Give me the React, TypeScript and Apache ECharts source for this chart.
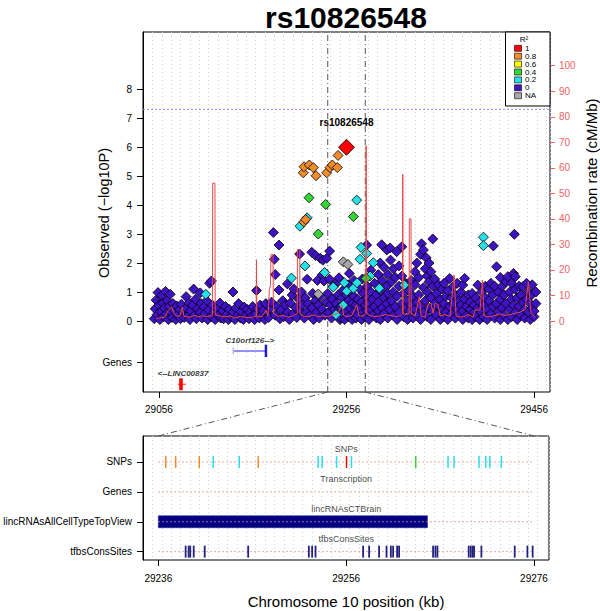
import React, { useEffect, useRef } from 'react';
import * as echarts from 'echarts';

const FONT = '"Liberation Sans", Arial, Helvetica, sans-serif';

// ---------- upper panel ----------
const upperTicks = [29056, 29256, 29456];
const logPTicks = [0, 1, 2, 3, 4, 5, 6, 7, 8];
const genesLabelY = -1.42;
const recombTicks = [0, 10, 20, 30, 40, 50, 60, 70, 80, 90, 100];
const significance = 7.3;
const zoomRange = [29236, 29276];
const leadSnp = { name: 'rs10826548', kb: 29256, logP: 5.99 };

const r2Colors: Record<string, string> = {
  '1': '#FF0000',
  '0.8': '#F28C28',
  '0.6': '#FFFF00',
  '0.4': '#33D633',
  '0.2': '#26E0E8',
  '0': '#3F12C4',
  NA: '#A8A8A8',
};
const legendLabels = ['1', '0.8', '0.6', '0.4', '0.2', '0', 'NA'];

const snpsR2_0: [number, number][] = [
  [29051,0.08],[29052,0.42],[29053,0.72],[29054,0.22],[29055,0.98],[29056,0.55],[29057,0.05],[29058,0.32],[29059,0.88],[29060,0.62],
  [29061,0.15],[29062,0.45],[29063,1.02],[29064,0.25],[29065,0.7],[29066,0.05],[29067,0.5],[29068,0.92],[29069,0.3],[29070,0.12],
  [29071,0.6],[29072,0.38],[29074,0.05],[29075,0.52],[29076,0.22],[29078,0.4],[29079,0.08],[29080,0.58],[29082,0.28],[29083,0.12],
  [29085,0.84],[29085,0.45],[29087,0.18],[29088,0.62],[29089,0.05],[29090,0.35],[29092,0.55],[29093,1.1],[29094,0.2],[29095,0.75],
  [29096,0.08],[29097,0.42],[29100,0.97],[29100,0.3],[29101,0.6],[29102,0.1],[29104,0.48],[29105,0.25],[29107,0.7],[29108,0.05],
  [29109,0.38],[29110,1.3],[29112,1.38],[29112,0.15],[29113,0.55],[29115,0.3],[29116,0.05],[29118,0.45],[29119,0.2],[29121,0.62],
  [29122,0.1],[29124,0.35],[29125,0.08],[29127,0.5],[29128,0.22],[29130,0.05],[29131,0.4],[29133,0.15],[29135,1.0],[29135,0.3],
  [29137,0.05],[29138,0.45],[29140,0.2],[29141,0.6],[29143,0.1],[29144,0.32],[29146,0.05],[29147,0.48],[29149,0.2],[29150,0.4],
  [29152,0.08],[29153,0.3],[29155,0.15],[29156,0.5],[29158,0.05],[29159,0.25],[29160,1.05],[29161,0.42],[29163,0.1],[29164,0.55],
  [29166,0.2],[29167,0.35],[29169,0.05],[29170,0.6],[29172,0.28],[29173,0.12],[29175,0.45],[29176,0.65],[29178,3.05],[29179,2.13],
  [29180,1.6],[29180,0.2],[29182,0.5],[29184,2.62],[29184,1.07],[29185,0.08],[29186,0.38],[29188,0.7],[29189,0.15],[29191,0.55],
  [29193,1.28],[29193,0.3],[29195,0.05],[29196,0.62],[29198,0.9],[29199,0.25],[29200,1.1],[29202,0.45],[29203,0.12],[29205,0.75],
  [29206,2.31],[29207,0.35],[29208,1.0],[29209,0.55],[29211,0.1],[29212,0.8],[29213,0.3],[29214,1.44],[29215,0.6],[29217,0.2],
  [29219,2.37],[29219,0.45],[29220,0.95],[29221,0.05],[29223,2.26],[29223,0.7],[29224,0.3],[29225,1.4],[29226,0.55],[29227,0.1],
  [29228,2.16],[29228,0.85],[29230,1.59],[29230,0.4],[29231,2.1],[29232,1.38],[29233,0.2],[29234,0.65],[29235,2.16],[29236,0.95],
  [29237,0.3],[29238,2.41],[29238,1.44],[29239,0.55],[29240,0.1],[29241,0.75],[29242,1.2],[29243,0.4],[29245,0.6],[29246,0.2],
  [29247,1.36],[29247,0.9],[29248,1.49],[29248,0.45],[29249,0.05],
  [29250,0.1],[29250,0.45],[29251,0.8],[29252,0.25],[29252,1.05],[29254,0.6],[29254,0.05],[29256,0.35],[29256,0.9],[29258,0.15],
  [29258,0.7],[29258,1.25],[29259,1.64],[29260,0.45],[29260,1.0],[29262,0.05],[29262,0.6],[29264,0.3],[29264,0.85],[29264,1.4],
  [29266,0.1],[29266,0.55],[29268,0.75],[29268,0.2],[29270,0.4],[29270,1.1],[29272,0.05],[29272,0.65],[29273,1.45],[29274,0.3],
  [29274,0.95],[29276,0.15],[29276,0.55],[29277.5,2.62],[29278,0.8],[29278,0.35],[29278,1.2],[29280,0.05],[29280,0.6],[29282,0.4],
  [29282,1.0],[29282,1.75],[29284,0.2],[29284,0.75],[29286,0.5],[29286,1.3],[29288,0.1],[29288,0.9],[29290,0.35],[29290,0.65],
  [29290,1.6],[29292,0.05],[29292,1.05],[29292,2.0],[29293.5,2.63],[29294,0.45],[29294,1.4],[29296,0.25],[29296,0.8],[29296,1.85],
  [29299,0.6],[29299,1.2],[29299,2.45],[29300,0.1],[29300,0.95],[29300,1.6],[29302,0.4],[29302.5,2.52],[29303,2.1],[29304,0.7],
  [29304,1.35],[29306,0.2],[29306,1.0],[29306,1.8],[29308,0.5],[29308,1.5],[29309.5,2.39],[29310,0.05],[29310,0.85],[29312,0.3],
  [29312,1.2],[29312,1.9],[29315,0.6],[29315,2.56],[29315,1.55],[29317,0.15],[29317,0.95],[29319,0.45],[29319,1.3],[29321,0.05],
  [29321,0.7],[29323,0.35],[29323,1.05],[29325,0.55],[29325,1.4],[29327,0.1],[29327,0.85],[29329,0.4],[29329,1.25],[29329,1.7],
  [29331,0.2],[29331,0.65],[29331,2.0],[29333,0.9],[29333,1.5],[29335,0.05],[29335,0.5],[29335,2.3],[29336,2.66],[29338,0.3],
  [29338,1.15],[29338,2.45],[29340,0.7],[29340,1.8],[29341,2.18],[29342,0.15],[29342,1.0],[29342,1.55],[29344,0.45],[29344,1.35],
  [29344,2.0],[29346,0.05],[29346,0.8],[29346,1.7],[29348,0.35],[29348,2.83],[29348,1.2],[29350,0.6],[29350,1.45],[29352,0.2],
  [29352,0.95],[29354,0.5],[29354,1.25],[29356,0.05],[29356,0.75],[29358,0.4],[29358,1.1],[29360,0.15],[29360,0.6],[29360,1.3],
  [29362,0.85],[29362,0.3],[29364,0.05],[29364,1.05],[29366,0.5],[29366,1.47],[29368,0.25],[29368,0.8],[29370,0.6],[29370,1.2],
  [29372,0.1],[29372,0.9],[29374,0.4],[29374,1.3],[29376,0.2],[29376,0.7],[29378,0.55],[29378,1.0],[29380,0.05],[29380,0.35],
  [29380,1.24],[29382,0.75],[29382,1.47],[29384,0.2],[29384,0.5],[29386,0.9],[29386,0.1],[29388,0.4],[29388,0.65],[29390,0.05],
  [29390,0.95],[29392,0.3],[29392,0.55],[29394,0.8],[29394,0.15],[29396,0.45],[29396,1.24],[29398,0.05],[29398,0.65],[29400,0.3],
  [29400,1.0],[29402,0.55],[29402,0.15],[29404,0.8],[29404,1.2],[29406,0.05],[29406,0.4],[29408,0.7],[29408,1.1],[29410,0.25],
  [29410,1.3],[29412,0.5],[29412.6,2.59],[29412,0.9],[29414,0.1],[29414,1.2],[29416,0.6],[29416,1.87],[29418,0.35],[29418,1.0],
  [29420,0.05],[29420,0.75],[29420,1.5],[29422,0.45],[29422,1.2],[29424,0.2],[29424,0.9],[29426,0.6],[29426,1.35],[29428,0.05],
  [29428,1.53],[29430,0.4],[29430,1.0],[29432,0.15],[29432,0.75],[29432,1.3],[29434,0.55],[29434,1.64],[29435,2.99],[29436,0.3],
  [29436,1.53],[29436,1.1],[29438,0.05],[29438,0.8],[29440,0.5],[29440,1.2],[29442,0.2],[29442,0.9],[29444,0.65],[29444,1.18],
  [29446,0.1],[29446,0.4],[29448,0.75],[29448,1.3],[29450,0.3],[29450,1.0],[29452,0.05],[29452,0.6],[29454,0.45],[29454,0.92],
  [29454,1.25],[29456,0.15],[29456,0.34],[29458,0.6],[29458,1.0],
];
const snpsR2_02: [number, number][] = [
  [29106,0.92],[29197.3,1.48],[29206.4,3.27],[29211.7,1.9],[29214,3.56],[29232.7,1.67],[29241.9,1.17],[29244.8,0.22],
  [29252.6,0.55],[29253.7,1.32],[29256.2,1.03],[29263.3,1.13],[29267.2,1.32],[29266.9,4.17],[29271.5,2.54],[29270.4,2.13],
  [29277.5,2.33],[29281.1,1.55],[29284.6,2.01],[29291,1.13],[29317.7,1.24],[29402,2.89],[29402,2.6],
];
const snpsR2_04: [number, number][] = [
  [29216,4.25],[29225.9,3.0],[29233.8,4.02],[29263.3,3.6],[29276.8,1.47],
];
const snpsR2_08: [number, number][] = [
  [29209.9,5.11],[29210.7,5.32],[29216.3,5.38],[29220.6,5.29],[29223.5,5.01],[29234.9,5.11],[29238.4,5.29],
  [29240.9,5.38],[29246.2,5.29],[29247,5.71],[29210.5,3.42],[29212.5,3.5],
];
const snpsNA: [number, number][] = [[29225.9,0.93],[29252.6,2.04],[29257.5,1.95]];

const recomb: [number, number][] = [
  [29052.8,1.0],[29057.1,1.2],[29062.4,1.5],[29065.6,4.0],[29069.5,5.6],[29072.0,3.0],[29075.2,1.8],[29078.4,2.0],[29080.9,5.5],
  [29082.7,1.8],[29089.1,1.5],[29094.4,2.2],[29097.6,1.6],[29101.9,2.0],[29106.1,1.8],[29110.4,2.0],[29113.0,2.0],[29113.3,54],
  [29115.7,54],[29116.0,2.5],[29121.1,2.0],[29126.4,1.6],[29131.7,2.0],[29137.1,1.2],[29142.4,1.8],[29147.7,1.5],[29153.1,1.2],
  [29158.4,1.8],[29159.7,1.8],[29160.0,24],[29160.4,1.6],[29165.9,1.8],[29170.1,4.3],[29172.3,2.0],[29173.7,12],[29174.9,14],
  [29175.5,26],[29177.6,26],[29178.1,3],[29182.9,1.8],[29188.3,2.2],[29193.6,1.5],[29198.9,2.0],[29203.5,3],[29203.7,28],
  [29206.2,28],[29206.4,3],[29209.6,2.0],[29214.9,1.6],[29220.3,2.4],[29225.6,1.8],[29230.9,2.0],[29236.3,1.7],[29241.6,2.5],
  [29247.0,3],[29250.9,6.3],[29253.3,2.0],[29257.6,1.8],[29261.9,2.2],[29266.9,6.3],[29269.3,2.0],[29273.6,2.0],[29276.6,3],
  [29276.9,68.7],[29277.3,68.7],[29277.6,3],[29281.1,2.0],[29286.4,1.8],[29291.7,2.0],[29297.1,2.5],[29302.4,2.2],[29307.7,1.8],
  [29313.1,2.0],[29315.6,3],[29316.0,57.4],[29316.4,3],[29319.5,2.5],[29322.8,3],[29323.0,40],[29324.8,40],[29325.0,3],
  [29329.1,2.0],[29333.7,9.5],[29335.5,2.0],[29339.7,1.5],[29342.9,6.5],[29346.1,7],[29348.3,3],[29350.4,6.9],[29353.6,6.5],
  [29355.7,2.0],[29361.1,2.5],[29366.4,1.8],[29370.7,18],[29372.8,2.0],[29377.1,1.5],[29382.4,1.8],[29384.5,2.5],[29387.7,2.3],
  [29390.9,1.5],[29393.1,4.3],[29398.4,4.3],[29400.9,16],[29402.7,2.0],[29409.1,1.6],[29414.4,2.2],[29419.7,2.8],[29425.1,2.2],
  [29430.4,2.5],[29435.7,3],[29441.1,3.5],[29446.4,4.5],[29449.9,15.4],[29452.8,3.0],[29457.1,1.5],
];

// genes in the upper panel
const c10orf126 = { label: 'C10orf126-->', start: 29135.3, end: 29170.1, row: -1.03, labelKb: 29153, labelY: -0.68 };
const linc00837 = { label: '<--LINC00837', start: 29076.3, end: 29084.8, exon: 29079.5, row: -2.18, labelKb: 29081.6, labelY: -1.8 };

// ---------- lower panel ----------
const lowerTicks = [29236, 29256, 29276];
const trackNames = ['SNPs', 'Genes', 'lincRNAsAllCellTypeTopView', 'tfbsConsSites'];
const trackTitles = ['SNPs', 'Transcription', 'lincRNAsCTBrain', 'tfbsConsSites'];
const zoomSnpKb = [29236.79, 29237.85, 29240.36, 29241.85, 29244.62, 29246.64, 29253.02, 29253.45, 29254.98, 29256.04,
  29256.57, 29263.41, 29266.85, 29267.49, 29270.15, 29270.86, 29271.29, 29272.53];
const zoomSnpR2 = ['0.8', '0.8', '0.8', '0.2', '0.2', '0.8', '0.2', '0.2', '0.2', '1',
  '0.2', '0.4', '0.2', '0.2', '0.2', '0.2', '0.2', '0.2'];
const lincRNAsCTBrain = [29236, 29264.66];
const tfbsKb = [29238.91, 29239.23, 29239.4, 29239.77, 29240.94, 29245.57, 29252.03, 29252.38, 29252.74, 29257.81,
  29258.45, 29259.51, 29260.3, 29260.76, 29261.0, 29261.43, 29261.64, 29265.26, 29265.51, 29265.72, 29269.05,
  29269.27, 29269.48, 29269.62, 29270.4, 29273.95, 29275.3, 29275.86];

const UP = { left: 143, top: 32, width: 407, height: 360 };
const LOW = { left: 143, top: 436, width: 406, height: 124 };
const UP_X = [29039, 29473];
const UP_Y = [-2.448, 9.966];
const UP_R = [-27.8, 113.2];
const LOW_X = [29234.37, 29277.6];
const LOW_Y = [-0.87, 3.28];
const RED = '#EE6464';

export default function App() {
  const ref = useRef<HTMLDivElement>(null);
  useEffect(() => {
    document.body.style.margin = '0';
    const chart = echarts.init(ref.current!, null, { renderer: 'svg' });

    const scatter = (data: [number, number][], color: string, size = 10, extra: any = {}) => ({
      type: 'scatter', xAxisIndex: 0, yAxisIndex: 0, data, symbol: 'diamond', symbolSize: size,
      itemStyle: { color, borderColor: '#000', borderWidth: 0.8, opacity: 1 },
      emphasis: { disabled: true }, silent: true, z: 2, ...extra,
    });
    const seg = (xi: number, yi: number, data: number[][], color: string, width: number, type: any = 'solid', z = 3) => ({
      type: 'line', xAxisIndex: xi, yAxisIndex: yi, data, symbol: 'none', showSymbol: false, silent: true, z,
      lineStyle: { color, width, type }, emphasis: { disabled: true },
    });
    const textPoint = (xi: number, yi: number, data: number[][], labels: string[], style: any) => ({
      type: 'scatter', xAxisIndex: xi, yAxisIndex: yi, data, symbolSize: 0, silent: true, z: 6,
      label: { show: true, position: 'inside', formatter: (p: any) => labels[p.dataIndex], ...style },
    });
    const plain = (v: number) => String(v);
    const DASHDOT = [6, 3, 1, 3];

    const option: any = {
      animation: false,
      textStyle: { fontFamily: FONT },
      grid: [
        { ...UP, show: true, borderColor: '#000', borderWidth: 1, containLabel: false, outerBoundsMode: 'none' },
        { ...LOW, show: true, borderColor: '#000', borderWidth: 1, containLabel: false, outerBoundsMode: 'none' },
      ],
      xAxis: [
        {
          gridIndex: 0, type: 'value', min: UP_X[0], max: UP_X[1], position: 'bottom',
          axisLine: { show: false, onZero: false },
          axisTick: { show: true, customValues: upperTicks, length: 6, lineStyle: { color: '#000' } },
          axisLabel: { customValues: upperTicks, color: '#000', fontSize: 10, margin: 12, formatter: plain },
          splitLine: { show: false },
        },
        {
          gridIndex: 0, type: 'value', min: UP_X[0], max: UP_X[1], interval: 10, position: 'top',
          axisLine: { show: false, onZero: false }, axisTick: { show: false }, axisLabel: { show: false },
          splitLine: { show: true, lineStyle: { color: '#d4d4d4', type: [1, 3], width: 1 } },
        },
        {
          gridIndex: 1, type: 'value', min: LOW_X[0], max: LOW_X[1], position: 'bottom',
          axisLine: { show: false, onZero: false },
          axisTick: { show: true, customValues: lowerTicks, length: 6, lineStyle: { color: '#000' } },
          axisLabel: { customValues: lowerTicks, color: '#000', fontSize: 10, margin: 13, formatter: plain },
          splitLine: { show: false },
        },
        {
          gridIndex: 1, type: 'value', min: LOW_X[0], max: LOW_X[1], interval: 1, position: 'top',
          axisLine: { show: false, onZero: false }, axisTick: { show: false }, axisLabel: { show: false },
          splitLine: { show: true, lineStyle: { color: '#d4d4d4', type: [1, 3], width: 1 } },
        },
      ],
      yAxis: [
        {
          gridIndex: 0, type: 'value', min: UP_Y[0], max: UP_Y[1], position: 'left',
          axisLine: { show: true, onZero: false, lineStyle: { color: '#000' } },
          axisTick: { show: true, customValues: [...logPTicks, genesLabelY], length: 6, lineStyle: { color: '#000' } },
          axisLabel: {
            customValues: [...logPTicks, genesLabelY], color: '#000', fontSize: 10, margin: 11,
            formatter: (v: number) => (v < 0 ? 'Genes' : String(v)),
          },
          splitLine: { show: false },
        },
        {
          gridIndex: 0, type: 'value', min: UP_R[0], max: UP_R[1], position: 'right',
          axisLine: { show: false, onZero: false },
          axisTick: { show: true, customValues: recombTicks, length: 5, lineStyle: { color: RED } },
          axisLabel: { customValues: recombTicks, color: RED, fontSize: 10, margin: 9, formatter: plain },
          splitLine: { show: false },
        },
        {
          gridIndex: 1, type: 'value', inverse: true, min: LOW_Y[0], max: LOW_Y[1], position: 'left',
          axisLine: { show: true, onZero: false, lineStyle: { color: '#000' } },
          axisTick: { show: true, customValues: [0, 1, 2, 3], length: 6, lineStyle: { color: '#000' } },
          axisLabel: {
            customValues: [0, 1, 2, 3], color: '#000', fontSize: 10, margin: 11,
            formatter: (v: number) => trackNames[Math.round(v)],
          },
          splitLine: { show: false },
        },
      ],
      series: [
        // reference lines in the upper panel
        seg(0, 0, [[UP_X[0], significance], [UP_X[1], significance]], '#8585FF', 1, [2, 2], 1),
        seg(0, 0, [[zoomRange[0], UP_Y[0]], [zoomRange[0], UP_Y[1]]], '#555555', 1, DASHDOT, 1),
        seg(0, 0, [[zoomRange[1], UP_Y[0]], [zoomRange[1], UP_Y[1]]], '#555555', 1, DASHDOT, 1),
        scatter(snpsR2_0, r2Colors['0']),
        scatter(snpsNA, r2Colors.NA),
        scatter(snpsR2_02, r2Colors['0.2']),
        scatter(snpsR2_04, r2Colors['0.4']),
        scatter(snpsR2_08, r2Colors['0.8']),
        {
          type: 'line', xAxisIndex: 0, yAxisIndex: 1, data: recomb, symbol: 'none', showSymbol: false, silent: true, z: 3,
          lineStyle: { color: '#E84848', width: 1 }, emphasis: { disabled: true },
        },
        scatter([[leadSnp.kb, leadSnp.logP]], r2Colors['1'], 16, {
          z: 4,
          label: { show: true, position: 'top', distance: 11, formatter: leadSnp.name, fontSize: 10, fontWeight: 'bold', color: '#000' },
        }),
        // genes (upper panel)
        seg(0, 0, [[c10orf126.start, c10orf126.row], [c10orf126.end, c10orf126.row]], '#6E6EF2', 1.5),
        seg(0, 0, [[c10orf126.start, c10orf126.row - 0.12], [c10orf126.start, c10orf126.row + 0.12]], '#B8B8FF', 1.5),
        seg(0, 0, [[c10orf126.end, c10orf126.row - 0.21], [c10orf126.end, c10orf126.row + 0.21]], '#2020C8', 2.5),
        seg(0, 0, [[linc00837.start, linc00837.row], [linc00837.end, linc00837.row]], '#FF2020', 1),
        seg(0, 0, [[linc00837.exon, linc00837.row - 0.21], [linc00837.exon, linc00837.row + 0.21]], '#FF0000', 3.5),
        textPoint(0, 0, [[c10orf126.labelKb, c10orf126.labelY], [linc00837.labelKb, linc00837.labelY]],
          [c10orf126.label, linc00837.label], { fontSize: 8, fontStyle: 'italic', fontWeight: 'bold', color: '#000' }),
        // lower panel
        {
          type: 'custom', xAxisIndex: 2, yAxisIndex: 2, silent: true, z: 2,
          data: [[lincRNAsCTBrain[0], lincRNAsCTBrain[1], 2]],
          encode: { x: [0, 1], y: 2 },
          renderItem: (params: any, api: any) => {
            const a = api.coord([api.value(0), api.value(2) - 0.2]);
            const b = api.coord([api.value(1), api.value(2) + 0.2]);
            return {
              type: 'rect',
              shape: { x: Math.min(a[0], b[0]), y: Math.min(a[1], b[1]), width: Math.abs(b[0] - a[0]), height: Math.abs(b[1] - a[1]) },
              style: { fill: '#000080', stroke: '#2a2aa0', lineWidth: 0.6 },
            };
          },
        },
        {
          type: 'custom', xAxisIndex: 2, yAxisIndex: 2, silent: true, z: 3,
          data: trackNames.map((_, i) => [zoomRange[0], zoomRange[1], i]),
          encode: { x: [0, 1], y: 2 },
          renderItem: (params: any, api: any) => {
            const a = api.coord([api.value(0), api.value(2)]);
            const b = api.coord([api.value(1), api.value(2)]);
            return {
              type: 'line', shape: { x1: a[0], y1: a[1], x2: b[0], y2: b[1] },
              style: { stroke: '#F08A8A', lineWidth: 1, lineDash: [1.5, 2.5] },
            };
          },
        },
        {
          type: 'custom', xAxisIndex: 2, yAxisIndex: 2, silent: true, z: 4,
          data: zoomSnpKb.map((kb) => [kb, 0]),
          renderItem: (params: any, api: any) => {
            const a = api.coord([api.value(0), api.value(1) - 0.2]);
            const b = api.coord([api.value(0), api.value(1) + 0.2]);
            return {
              type: 'line', shape: { x1: a[0], y1: a[1], x2: b[0], y2: b[1] },
              style: { stroke: r2Colors[zoomSnpR2[params.dataIndex]], lineWidth: 1.5 },
            };
          },
        },
        {
          type: 'custom', xAxisIndex: 2, yAxisIndex: 2, silent: true, z: 4,
          data: tfbsKb.map((kb) => [kb, 3]),
          renderItem: (params: any, api: any) => {
            const a = api.coord([api.value(0), api.value(1) - 0.2]);
            const b = api.coord([api.value(0), api.value(1) + 0.2]);
            return {
              type: 'line', shape: { x1: a[0], y1: a[1], x2: b[0], y2: b[1] },
              style: { stroke: '#22227F', lineWidth: 1.8 },
            };
          },
        },
        textPoint(2, 2, trackTitles.map((_, i) => [29256, i - 0.43]), trackTitles, { fontSize: 9, color: '#111' }),
      ],
    };
    chart.setOption(option);

    const xa = chart.convertToPixel({ xAxisIndex: 0 } as any, zoomRange[0]) as number;
    const xb = chart.convertToPixel({ xAxisIndex: 0 } as any, zoomRange[1]) as number;
    const la = chart.convertToPixel({ xAxisIndex: 2 } as any, zoomRange[0]) as number;
    const lb = chart.convertToPixel({ xAxisIndex: 2 } as any, zoomRange[1]) as number;
    const yUpBottom = chart.convertToPixel({ yAxisIndex: 0 } as any, UP_Y[0]) as number;
    const yLowTop = chart.convertToPixel({ yAxisIndex: 2 } as any, LOW_Y[0]) as number;

    const lx = 505.5, ly = 32, lw = 44.5, lh = 74;
    const graphic: any[] = [
      {
        type: 'text', x: 346, y: 17, z: 100,
        style: { text: leadSnp.name, font: `bold 30px ${FONT}`, fill: '#000', textAlign: 'center', textVerticalAlign: 'middle' },
      },
      {
        type: 'text', x: 104, y: 213, rotation: Math.PI / 2, z: 100,
        style: { text: 'Observed (\u2212log10P)', font: `14.5px ${FONT}`, fill: '#000', textAlign: 'center', textVerticalAlign: 'middle' },
      },
      {
        type: 'text', x: 591, y: 193, rotation: Math.PI / 2, z: 100,
        style: { text: 'Recombination rate (cM/Mb)', font: `15px ${FONT}`, fill: '#000', textAlign: 'center', textVerticalAlign: 'middle' },
      },
      {
        type: 'text', x: 346, y: 601, z: 100,
        style: { text: 'Chromosome 10 position (kb)', font: `15px ${FONT}`, fill: '#000', textAlign: 'center', textVerticalAlign: 'middle' },
      },
      {
        type: 'line', z: 100, shape: { x1: xa, y1: yUpBottom, x2: la, y2: yLowTop },
        style: { stroke: '#555', lineWidth: 1, lineDash: DASHDOT },
      },
      {
        type: 'line', z: 100, shape: { x1: xb, y1: yUpBottom, x2: lb, y2: yLowTop },
        style: { stroke: '#555', lineWidth: 1, lineDash: DASHDOT },
      },
      {
        type: 'rect', z: 100, shape: { x: lx, y: ly, width: lw, height: lh },
        style: { fill: '#fff', stroke: '#000', lineWidth: 1 },
      },
      {
        type: 'text', x: 524, y: 39.5, z: 101,
        style: { text: 'R\u00B2', font: `8px ${FONT}`, fill: '#000', textAlign: 'center', textVerticalAlign: 'middle' },
      },
      ...legendLabels.flatMap((lab, i) => {
        const cy = 48.3 + i * 7.9;
        return [
          {
            type: 'rect', z: 101, shape: { x: 514.5, y: cy - 3, width: 7, height: 6 },
            style: { fill: r2Colors[lab], stroke: '#000', lineWidth: 0.6 },
          },
          {
            type: 'text', x: 525, y: cy, z: 101,
            style: { text: lab, font: `8px ${FONT}`, fill: '#000', textAlign: 'left', textVerticalAlign: 'middle' },
          },
        ];
      }),
    ];
    chart.setOption({ graphic });

    return () => chart.dispose();
  }, []);
  return <div ref={ref} style={{ width: 600, height: 611 }} />;
}
